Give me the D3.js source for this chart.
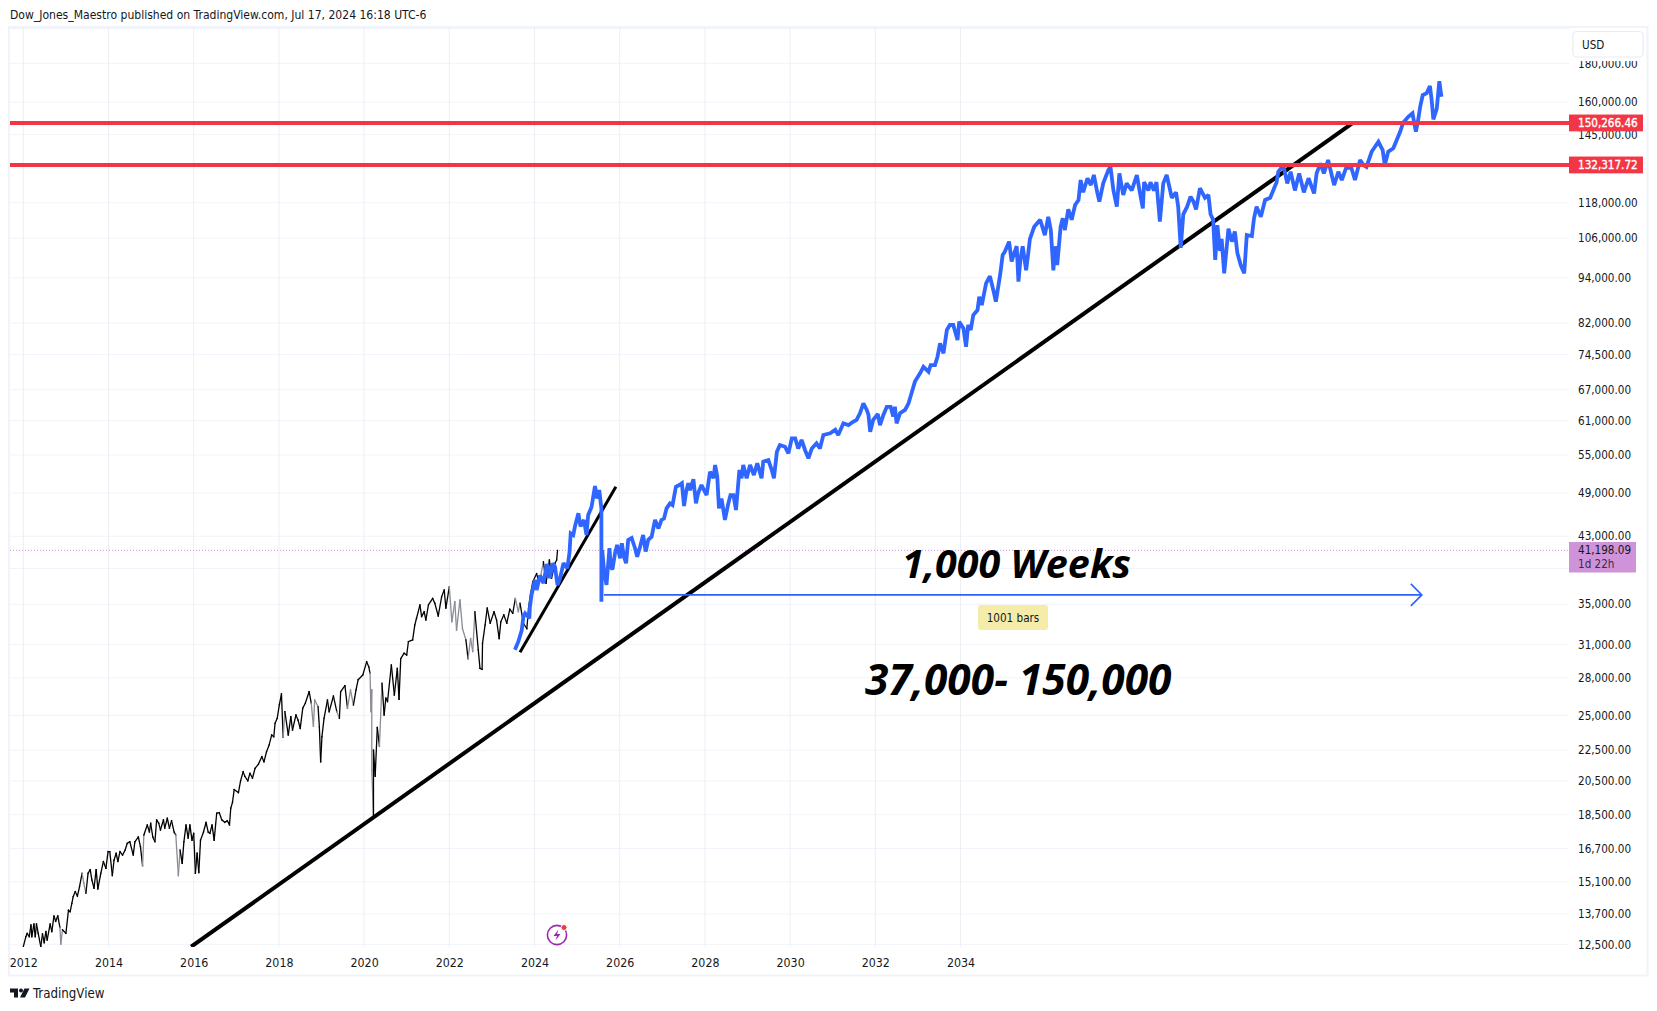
<!DOCTYPE html>
<html><head><meta charset="utf-8">
<script src="https://cdn.jsdelivr.net/npm/d3@7"></script>
<style>
html,body{margin:0;padding:0;background:#fff;overflow:hidden}
svg{display:block}
.ui{font-family:"DejaVu Sans Condensed","DejaVu Sans",sans-serif;font-size:11.6px;fill:#131722}
.axis text{font-family:"DejaVu Sans Condensed","DejaVu Sans",sans-serif;font-size:11.6px;fill:#131722}
.time text{font-size:12.3px}
.big{font-family:"Open Sans",sans-serif;font-weight:700;font-style:italic;fill:#000}
</style></head><body>
<svg id="c" width="1657" height="1011"></svg>
<script>
const yearTicks=[2012,2014,2016,2018,2020,2022,2024,2026,2028,2030,2032,2034];
const priceTicks=[12500,13700,15100,16700,18500,20500,22500,25000,28000,31000,35000,39000,43000,49000,55000,61000,67000,74500,82000,94000,106000,118000,132000,145000,160000,180000,200000];
const coveredPriceLabels=[39000,132000,200000];
const hLevels=[150266.46,132317.72];
const lastPrice=41198.09;
const lastCountdown="1d 22h";
const longTrendYears=[2015.94,2043.21];
const longTrendPrices=[12410,150266];
const shortTrendYears=[2023.66,2025.91];
const shortTrendPrices=[30260,49950];
const spanYears=[2025.63,2044.83];
const spanPrice=36000;
const grayRanges=[[2012.84,2012.9],[2013.36,2013.44],[2014.78,2014.82],[2015.58,2015.64],[2018.08,2018.12],[2018.76,2018.84],[2019.34,2019.4],[2019.6,2019.7],[2020.12,2020.18],[2020.34,2020.38],[2022.0,2022.08],[2022.12,2022.32],[2022.44,2022.56],[2023.5,2023.64],[2024.08,2024.2]];
const blackYears=[2012,2012.06,2012.09,2012.14,2012.18,2012.2,2012.25,2012.28,2012.31,2012.35,2012.41,2012.45,2012.49,2012.53,2012.56,2012.63,2012.67,2012.72,2012.76,2012.81,2012.86,2012.88,2012.92,2013,2013.06,2013.1,2013.14,2013.17,2013.22,2013.27,2013.32,2013.38,2013.42,2013.47,2013.52,2013.57,2013.61,2013.66,2013.71,2013.75,2013.82,2013.88,2013.94,2013.99,2014.03,2014.09,2014.13,2014.18,2014.22,2014.27,2014.33,2014.39,2014.44,2014.5,2014.58,2014.62,2014.7,2014.75,2014.8,2014.83,2014.91,2014.96,2014.99,2015.04,2015.09,2015.13,2015.18,2015.22,2015.29,2015.32,2015.38,2015.43,2015.48,2015.54,2015.58,2015.64,2015.68,2015.73,2015.77,2015.82,2015.87,2015.91,2015.96,2016,2016.04,2016.08,2016.12,2016.16,2016.23,2016.29,2016.34,2016.38,2016.43,2016.48,2016.54,2016.6,2016.66,2016.73,2016.79,2016.84,2016.87,2016.91,2016.95,2017.05,2017.1,2017.16,2017.2,2017.27,2017.32,2017.38,2017.44,2017.52,2017.6,2017.65,2017.71,2017.77,2017.83,2017.88,2017.91,2017.96,2018.01,2018.06,2018.1,2018.14,2018.22,2018.28,2018.32,2018.4,2018.45,2018.5,2018.56,2018.62,2018.71,2018.76,2018.81,2018.84,2018.92,2018.95,2018.98,2019.01,2019.06,2019.14,2019.18,2019.28,2019.36,2019.42,2019.45,2019.55,2019.61,2019.68,2019.75,2019.81,2019.86,2019.97,2020.06,2020.11,2020.14,2020.16,2020.18,2020.18,2020.22,2020.22,2020.26,2020.31,2020.36,2020.42,2020.47,2020.51,2020.55,2020.64,2020.71,2020.78,2020.82,2020.86,2020.94,2021,2021.04,2021.14,2021.19,2021.23,2021.31,2021.35,2021.41,2021.45,2021.51,2021.61,2021.66,2021.74,2021.82,2021.88,2021.92,2022,2022.06,2022.13,2022.17,2022.25,2022.31,2022.39,2022.44,2022.5,2022.55,2022.6,2022.68,2022.72,2022.77,2022.78,2022.84,2022.89,2022.96,2023.05,2023.11,2023.17,2023.21,2023.28,2023.35,2023.42,2023.49,2023.55,2023.62,2023.66,2023.74,2023.82,2023.86,2023.91,2023.96,2024.05,2024.11,2024.21,2024.27,2024.35,2024.4,2024.48,2024.52,2024.54];
const blackPrices=[12410,12790,12920,12790,13250,12790,13290,12790,13290,12920,12410,12900,12560,12990,12660,13290,12990,13620,13400,13620,13150,12510,13060,12920,13860,13790,14150,14440,14660,14460,14880,15500,15040,14590,15500,15670,15190,14810,15670,14780,15500,16060,15730,16550,16550,15390,16130,16470,16060,16550,16380,16630,16970,17050,16380,17050,17300,16800,15860,17400,17940,17560,18030,17300,17050,18220,18030,17670,18220,17770,18310,17770,18170,17560,17400,15390,16630,15970,17050,17940,17240,17940,17130,17490,15500,16470,15530,17130,17560,18080,17560,17490,17940,17130,18590,18620,18220,18080,18170,17940,18880,19200,19970,19780,20500,21080,20790,20500,20980,20670,21290,21570,22060,21720,22400,22850,23560,23430,24410,24780,25800,26670,23390,25280,23560,24900,23920,25030,24640,24030,25550,25930,26860,25930,24200,26190,25660,24140,21720,23430,24780,26190,25280,26500,25280,24780,26860,27350,25550,27000,25800,27000,27840,28250,29410,28960,28400,25280,27000,21190,18390,22500,20790,24100,22780,27550,25030,26340,26060,29110,26590,28820,26240,29680,30170,30010,31250,31420,32860,33530,34920,33710,34210,33360,34920,35620,35100,33770,35800,36540,34590,36900,33190,35270,32340,35450,32500,31420,29680,31540,30330,34210,30490,28820,28730,31090,32860,34590,33040,34210,33360,31540,33190,33880,33040,34480,34050,35620,34210,35100,33040,32500,34590,36180,37470,38400,37290,39800,37290,40010,37870,39620,40010,41198];
const blueYears=[2023.54,2023.62,2023.7,2023.74,2023.78,2023.88,2023.89,2023.93,2024.01,2024.05,2024.13,2024.21,2024.29,2024.36,2024.43,2024.48,2024.54,2024.6,2024.68,2024.77,2024.82,2024.85,2024.91,2024.95,2025.03,2025.08,2025.16,2025.22,2025.26,2025.34,2025.42,2025.47,2025.52,2025.57,2025.57,2025.59,2025.63,2025.69,2025.76,2025.79,2025.83,2025.89,2025.94,2026.01,2026.05,2026.1,2026.15,2026.2,2026.28,2026.36,2026.41,2026.48,2026.55,2026.61,2026.67,2026.75,2026.83,2026.91,2026.98,2027.04,2027.1,2027.18,2027.24,2027.32,2027.4,2027.46,2027.51,2027.56,2027.61,2027.65,2027.73,2027.79,2027.84,2027.92,2028.04,2028.12,2028.2,2028.24,2028.29,2028.33,2028.39,2028.47,2028.55,2028.6,2028.67,2028.73,2028.81,2028.86,2028.9,2028.98,2029.06,2029.15,2029.23,2029.33,2029.37,2029.49,2029.57,2029.62,2029.69,2029.76,2029.88,2029.96,2030.04,2030.12,2030.19,2030.27,2030.35,2030.43,2030.51,2030.62,2030.7,2030.78,2030.94,2031.06,2031.13,2031.25,2031.37,2031.48,2031.56,2031.64,2031.72,2031.8,2031.84,2031.88,2031.95,2032.06,2032.11,2032.19,2032.27,2032.36,2032.42,2032.46,2032.5,2032.58,2032.7,2032.78,2032.85,2032.93,2033.05,2033.13,2033.25,2033.3,2033.4,2033.46,2033.52,2033.6,2033.68,2033.75,2033.83,2033.93,2033.97,2034.07,2034.13,2034.18,2034.24,2034.3,2034.4,2034.44,2034.5,2034.6,2034.69,2034.77,2034.83,2034.93,2034.99,2035.04,2035.14,2035.2,2035.26,2035.32,2035.36,2035.41,2035.46,2035.54,2035.59,2035.63,2035.73,2035.87,2035.98,2036.06,2036.12,2036.18,2036.22,2036.27,2036.35,2036.4,2036.45,2036.53,2036.61,2036.69,2036.77,2036.82,2036.88,2036.98,2037.06,2037.13,2037.21,2037.26,2037.35,2037.47,2037.52,2037.59,2037.67,2037.73,2037.82,2037.9,2038.02,2038.14,2038.21,2038.28,2038.31,2038.41,2038.46,2038.54,2038.6,2038.68,2038.76,2038.84,2038.96,2039.06,2039.11,2039.17,2039.23,2039.32,2039.4,2039.47,2039.53,2039.62,2039.74,2039.82,2039.87,2039.93,2039.98,2040.03,2040.09,2040.13,2040.19,2040.29,2040.37,2040.44,2040.5,2040.58,2040.66,2040.72,2040.84,2040.89,2040.95,2041.05,2041.15,2041.27,2041.34,2041.42,2041.46,2041.58,2041.67,2041.75,2041.85,2041.95,2042.06,2042.17,2042.3,2042.36,2042.45,2042.53,2042.63,2042.77,2042.87,2042.95,2043.06,2043.18,2043.26,2043.38,2043.46,2043.53,2043.65,2043.81,2043.91,2043.96,2044.04,2044.16,2044.24,2044.32,2044.39,2044.51,2044.61,2044.69,2044.75,2044.79,2044.85,2044.94,2045.02,2045.06,2045.1,2045.18,2045.24,2045.29];
const bluePrices=[30490,31250,32340,33710,34050,33530,34590,36000,37680,36540,38200,37290,39530,37870,39620,39220,37100,37870,39620,39020,40830,43380,43160,44300,46090,44300,45170,43160,45850,47000,50060,48210,49450,46780,35270,41220,38900,37100,41470,39220,38880,40830,41870,40210,42090,40410,39620,42530,42770,41470,40410,41670,43160,41050,42530,42940,45170,44020,45170,45380,46780,47500,47260,49950,50210,50480,47110,49210,50480,49450,51090,47500,48970,50210,48710,52280,51250,53340,51510,46780,48210,45170,47500,48710,48710,46550,52540,51250,53340,51250,53340,51750,53620,51250,53880,54150,52540,51250,55530,56670,56380,55270,57830,57830,56090,57560,55830,54440,56090,56970,56090,58420,58720,59340,58420,60530,60210,60810,61170,62390,64300,63020,62070,59000,61170,62250,60210,62070,63630,63630,61770,63630,60530,62390,63020,64300,66280,68670,70420,71820,70760,72200,72200,74040,77100,74810,80290,81500,81500,77870,82330,80650,76310,81500,80290,84000,85270,88780,86580,92470,94490,90620,87470,94850,100740,101740,104910,98800,101290,103440,92950,99730,103440,96170,101290,105790,109720,112080,107010,113100,108650,96170,103440,97700,109720,112590,108650,115650,112080,117200,119000,126400,121800,127100,124500,128360,121800,118400,125150,130300,131570,122500,116600,129000,120800,125150,122500,128360,121800,116000,125600,122500,125600,122500,125600,111480,125150,128360,119800,121800,116600,102950,113950,116600,120200,118400,115650,123300,119800,120800,113950,112080,99250,110300,102000,105790,95310,109100,104910,108180,101290,97640,95310,107010,106700,112590,116600,113130,119000,119800,122500,125600,129640,132280,125150,129640,122500,129000,121800,127100,121400,129000,132970,129000,134300,124500,129640,126400,131570,130900,126400,134300,132280,131570,137700,141960,138400,132280,137700,139150,142700,146300,150350,153100,154700,146300,152450,157800,163500,164400,168000,161000,151900,156900,170500,162700];

const svg=d3.select("#c");
const x=d3.scaleLinear().domain([2012,2034]).range([23.3,960.5]);
const y=d3.scaleLog().domain([12500,180000]).range([944.3,63.3]);
const paneR=1569,paneB=947,paneT=28,paneL=10;

svg.append("clipPath").attr("id","pane").append("rect").attr("x",paneL).attr("y",paneT).attr("width",paneR-paneL).attr("height",paneB-paneT);

// frame
svg.append("rect").attr("x",9).attr("y",27).attr("width",1638.5).attr("height",948.5).attr("fill","none").attr("stroke","#f0f3fa").attr("stroke-width",2);

// grid
svg.append("g").selectAll("line").data(priceTicks).join("line")
  .attr("x1",paneL).attr("x2",paneR).attr("y1",d=>y(d)).attr("y2",d=>y(d)).attr("stroke","#f0f3fa").attr("stroke-width",1);
svg.append("g").selectAll("line").data(yearTicks).join("line")
  .attr("x1",d=>x(d)).attr("x2",d=>x(d)).attr("y1",paneT).attr("y2",paneB).attr("stroke","#eceef3").attr("stroke-width",1);

// axes
const priceAxis=svg.append("g").attr("class","axis").attr("transform",`translate(${paneR},0)`)
  .call(d3.axisRight(y).tickValues(priceTicks.filter(d=>!coveredPriceLabels.includes(d))).tickSize(0).tickPadding(9).tickFormat(d3.format(",.2f")));
priceAxis.select(".domain").remove();
const timeAxis=svg.append("g").attr("class","axis time").attr("transform",`translate(0,${paneB})`)
  .call(d3.axisBottom(x).tickValues(yearTicks).tickSize(0).tickPadding(11).tickFormat(d3.format("d")));
timeAxis.select(".domain").remove();

const chart=svg.append("g").attr("clip-path","url(#pane)");

// pink last price
chart.append("line").attr("x1",paneL).attr("x2",paneR).attr("y1",y(lastPrice)).attr("y2",y(lastPrice))
  .attr("stroke","#ce93d8").attr("stroke-width",1).attr("stroke-dasharray","1 2");

// black price
const isGray=t=>grayRanges.some(r=>t>=r[0]&&t<=r[1]);
const segs=blackYears.slice(1).map((t,i)=>({t0:blackYears[i],p0:blackPrices[i],t1:t,p1:blackPrices[i+1]}));
chart.append("g").selectAll("line").data(segs).join("line")
  .attr("x1",d=>x(d.t0)).attr("y1",d=>y(d.p0)).attr("x2",d=>x(d.t1)).attr("y2",d=>y(d.p1))
  .attr("stroke",d=>isGray(d.t0)?"#8a8d96":"#000").attr("stroke-width",1.3).attr("stroke-linecap","square");

// trend lines
const pts=(a,b)=>a.map((d,i)=>[x(d),y(b[i])]);
chart.append("path").attr("d",d3.line()(pts(longTrendYears,longTrendPrices))).attr("stroke","#000").attr("stroke-width",4).attr("fill","none");
chart.append("path").attr("d",d3.line()(pts(shortTrendYears,shortTrendPrices))).attr("stroke","#000").attr("stroke-width",3).attr("fill","none");

// blue projection
chart.append("path").attr("d",d3.line()(pts(blueYears,bluePrices))).attr("stroke","#2f66ff").attr("stroke-width",3.8).attr("fill","none").attr("stroke-linejoin","miter").attr("stroke-miterlimit",2);

// span arrow
const ay=y(spanPrice),ax0=x(spanYears[0]),ax1=x(spanYears[1]);
chart.append("line").attr("x1",ax0).attr("x2",ax1).attr("y1",ay).attr("y2",ay).attr("stroke","#2962ff").attr("stroke-width",1.6);
chart.append("path").attr("d",`M${ax1-11},${ay-11}L${ax1},${ay}L${ax1-11},${ay+11}`).attr("fill","none").attr("stroke","#2962ff").attr("stroke-width",1.6);

// red levels
chart.append("g").selectAll("line").data(hLevels).join("line")
  .attr("x1",paneL).attr("x2",paneR).attr("y1",d=>y(d)).attr("y2",d=>y(d)).attr("stroke","#f23645").attr("stroke-width",4);
const fmt=d3.format(",.2f");
const redG=svg.append("g").selectAll("g").data(hLevels).join("g");
redG.append("rect").attr("x",paneR).attr("width",74).attr("y",d=>y(d)-8.4).attr("height",16.8).attr("fill","#f23645");
redG.append("text").attr("class","ui").attr("x",paneR+9).attr("y",d=>y(d)+4.2).text(d=>fmt(d)).style("fill","#fff").style("stroke","#fff").style("stroke-width","0.35px");

// pink label
svg.append("rect").attr("x",paneR).attr("y",542).attr("width",67).attr("height",30.5).attr("fill","#ce93d8");
svg.append("text").attr("class","ui").attr("x",paneR+9).attr("y",554).text(fmt(lastPrice));
svg.append("text").attr("class","ui").attr("x",paneR+9).attr("y",568).text(lastCountdown).style("fill","#3d2a48");

// USD box
svg.append("rect").attr("x",1572).attr("y",30).attr("width",72).attr("height",31).attr("fill","#fff");
svg.append("rect").attr("x",1573).attr("y",31.5).attr("width",70).attr("height",25.5).attr("rx",4).attr("fill","#fff").attr("stroke","#e8ebf3").attr("stroke-width",1.2);
svg.append("text").attr("class","ui").attr("x",1582).attr("y",48.5).text("USD");

// annotations
svg.append("text").attr("class","big").attr("x",902).attr("y",578).style("font-size","39.5px").text("1,000 Weeks");
svg.append("text").attr("class","big").attr("x",865).attr("y",695).style("font-size","42.5px").text("37,000- 150,000");

// bars tag
svg.append("rect").attr("x",978).attr("y",605).attr("width",70).attr("height",25).attr("rx",3).attr("fill","#f5ecaa");
svg.append("text").attr("class","ui").attr("x",1013).attr("y",621.5).attr("text-anchor","middle").text("1001 bars");

// title
svg.append("text").attr("class","ui").attr("x",10).attr("y",19).style("font-size","12.05px").text("Dow_Jones_Maestro published on TradingView.com, Jul 17, 2024 16:18 UTC-6");

// bolt icon
const bolt=svg.append("g").attr("transform","translate(557,935)");
bolt.append("circle").attr("r",9.6).attr("fill","#fff").attr("stroke","#9c27b0").attr("stroke-width",1.6);
bolt.append("path").attr("d","M1.5,-5.5L-3.5,1H0L-1.5,5.5L3.5,-1H0Z").attr("fill","#9c27b0");
bolt.append("circle").attr("cx",7).attr("cy",-7.5).attr("r",3).attr("fill","#f23645").attr("stroke","#fff").attr("stroke-width",1);

// logo
const logo=svg.append("g").attr("transform","translate(10,988)").attr("fill","#131722");
logo.append("path").attr("d","M0,0.5H8V9.5H4V4.5H0Z");
logo.append("circle").attr("cx",11).attr("cy",2.5).attr("r",2);
logo.append("path").attr("d","M14.5,0.5H19.5L15,9.5H10Z");
svg.append("text").attr("x",33).attr("y",998).style("font-family",'"DejaVu Sans Condensed",sans-serif').style("font-size","13.2px").style("fill","#131722").text("TradingView");
</script>
</body></html>
